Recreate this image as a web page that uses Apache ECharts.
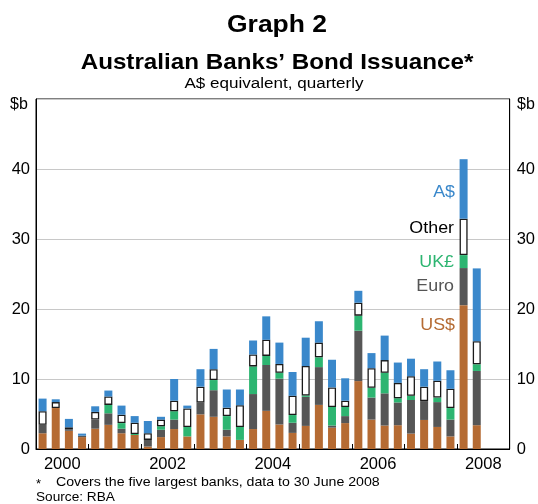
<!DOCTYPE html>
<html><head><meta charset="utf-8">
<script src="https://cdn.jsdelivr.net/npm/echarts@6/dist/echarts.min.js"></script>
<style>html,body{margin:0;padding:0;background:#fff}#c{width:538px;height:504px}</style>
</head><body><div id="c"></div>
<script>
const years = ['2000','2001','2002','2003','2004','2005','2006','2007','2008'];
const yearLabels = ['2000','2002','2004','2006','2008'];
const quarters = ['Mar','Jun','Sep','Dec'];
const categories = [];
years.forEach(y => quarters.forEach(q => categories.push(q + '-' + y)));

const usd   = [2.25,5.85,2.6,1.7,2.9,3.45,2.25,2.0, 0.35,1.7,2.85,1.8,4.95,4.6,1.8,1.3, 2.85,5.45,3.5,2.3,3.3,6.3,3.05,3.7, 9.7,4.2,3.35,3.4,2.2,4.15,3.15,1.8, 20.55,3.4];
const euro  = [1.2,0,0.2,0.2,1.3,1.65,0.65,0, 0.95,1.05,1.35,0,1.7,3.8,0.95,0, 5.0,6.55,6.55,1.45,4.15,5.4,0.3,1.0, 7.2,3.15,4.6,3.25,4.8,2.7,3.55,2.4, 5.3,7.75];
const ukp   = [0,0,0,0,0,1.2,0.8,0.15, 0,0.5,1.2,1.35,0,1.45,1.95,1.85, 3.95,1.3,0.85,1.1,0.2,1.4,2.65,1.3, 2.15,1.4,2.95,0.6,0.6,0,0.65,1.65, 1.85,0.95];
const other = [1.95,0.85,0.3,0,1.1,1.2,1.2,1.6, 0.95,0.95,1.5,2.65,2.25,1.55,1.2,3.1, 1.7,2.3,1.25,2.75,4.2,2.1,2.8,0.9, 1.85,2.8,1.8,2.2,2.8,2.05,2.4,2.75, 5.2,3.3];
const aud   = [1.8,0.4,1.2,0.3,0.8,0.85,1.3,0.95, 1.75,0.4,3.1,0.4,2.5,2.9,2.6,2.25, 2.0,3.35,3.05,3.4,4.05,3.05,3.95,3.2, 1.7,2.15,3.5,2.9,2.5,2.5,2.75,2.65, 8.5,10.4];
const yTicks = [0,10,20,30,40];

const C = {usd:'#b56b33', euro:'#565656', ukp:'#2db571', aud:'#3a88cb'};
const FONT = 'Liberation Sans, Arial, sans-serif';

function prep(arr){ const d = arr.map(v => v === 0 ? null : v); while (d.length < categories.length) d.push(null); return d; }
function ser(name, arr, color, extra){
  return Object.assign({name, type:'bar', stack:'all', barWidth:8, data:prep(arr),
    itemStyle:{color}, emphasis:{disabled:true}, animation:false}, extra||{});
}
function txt(x, y, text, font, fill, align, sx){
  return {type:'text', x, y, scaleX: sx || 1,
    style:{text, font, fill, align: align || 'left', verticalAlign:'middle',
           textAlign: align || 'left', textVerticalAlign:'middle'}};
}

const chart = echarts.init(document.getElementById('c'), null, {renderer:'canvas'});
const yAx = (pos) => ({
  type:'value', min:0, max:50, interval:10, position:pos,
  axisLine:{show:true, lineStyle:{color:'#000', width:1}},
  axisTick:{show:false},
  splitLine:{show: pos==='left', lineStyle:{color:'#c8c8c8', width:1}},
  axisLabel:{color:'#000', fontSize:16.5, fontFamily:FONT, margin: pos==='left'?6:7,
    formatter: v => yTicks.includes(v) ? String(v) : ''}
});
chart.setOption({
  animation:false,
  grid:{left:36, right:27, top:99, bottom:55, show:true, borderColor:'#000', borderWidth:1, backgroundColor:'transparent'},
  xAxis:{type:'category', data:categories,
    axisLine:{lineStyle:{color:'#000', width:1}},
    axisTick:{show:true, inside:true, length:5, lineStyle:{color:'#000'},
      interval:(i)=> i % 4 === 0},
    axisLabel:{interval:0, color:'#000', fontSize:16.5, fontFamily:FONT, margin:7, padding:[0,0,0,13],
      formatter:(v,i)=>{ if (i % 8 === 1) return yearLabels[(i-1)/8] || ''; return ''; }}
  },
  yAxis:[yAx('left'), yAx('right')],
  series:[
    ser('US$', usd, C.usd),
    ser('Euro', euro, C.euro),
    ser('UK£', ukp, C.ukp),
    ser('Other', other, '#fff', {itemStyle:{color:'#fff', borderColor:'#1a1a1a', borderWidth:1.3}}),
    ser('A$', aud, C.aud)
  ],
  graphic:[
    txt(277, 25, 'Graph 2', 'bold 24.5px '+FONT, '#000', 'center', 1.08),
    txt(277, 63, 'Australian Banks’ Bond Issuance*', 'bold 22px '+FONT, '#000', 'center', 1.1),
    txt(274, 84, 'A$ equivalent, quarterly', '15.5px '+FONT, '#000', 'center', 1.1),
    txt(10, 105, '$b', '16px '+FONT, '#000', 'left'),
    txt(517, 105, '$b', '16px '+FONT, '#000', 'left'),
    txt(455, 192, 'A$', '17px '+FONT, C.aud, 'right', 1.05),
    txt(454, 228, 'Other', '17px '+FONT, '#000', 'right', 1.05),
    txt(454, 262, 'UK£', '17px '+FONT, C.ukp, 'right', 1.05),
    txt(454, 286, 'Euro', '17px '+FONT, '#555', 'right', 1.05),
    txt(455, 325, 'US$', '17px '+FONT, C.usd, 'right', 1.05),
    txt(36, 484, '*', '13px '+FONT, '#000', 'left'),
    txt(56, 482, 'Covers the five largest banks, data to 30 June 2008', '13px '+FONT, '#000', 'left', 1.09),
    txt(36, 497, 'Source: RBA', '13px '+FONT, '#000', 'left', 1.05)
  ]
});
</script></body></html>
